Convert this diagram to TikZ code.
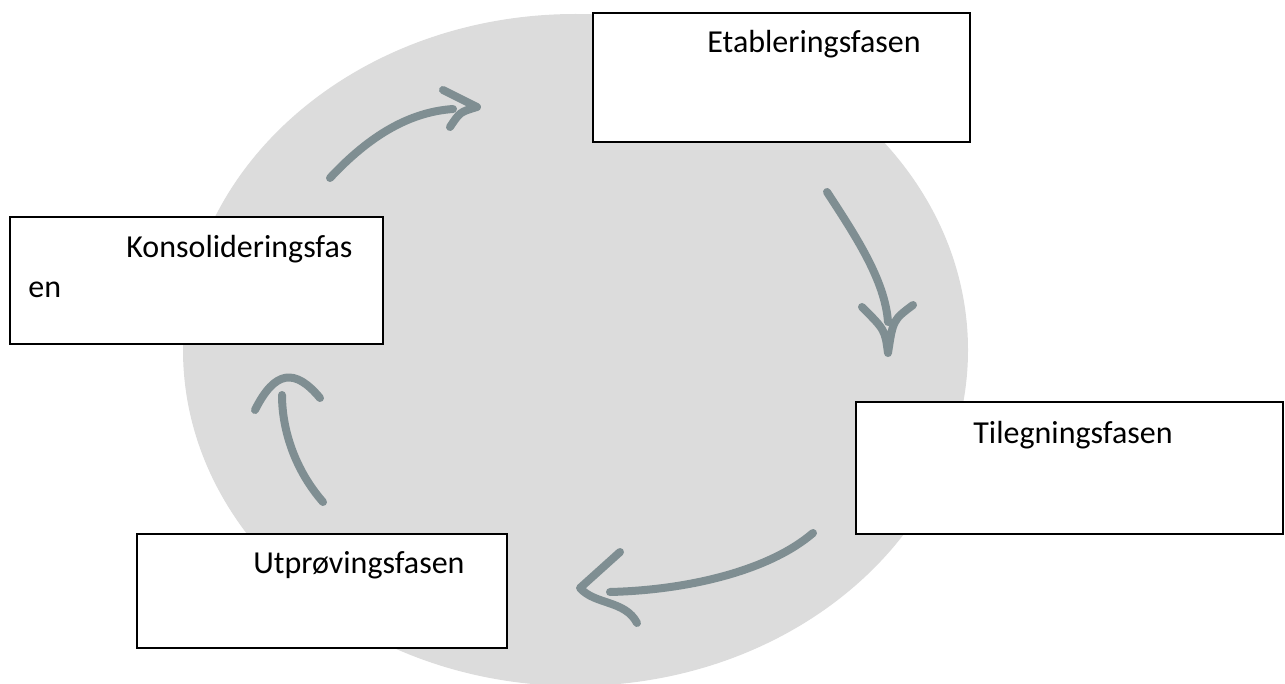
\documentclass[tikz,border=0pt]{standalone}
\usepackage{fontspec}
\setmainfont{Carlito}
\definecolor{ovalgrey}{RGB}{220,220,220}
\definecolor{strokegrey}{RGB}{127,142,146}

\begin{document}
\begin{tikzpicture}[x=0.5pt, y=-0.5pt,
  phasebox/.style={draw=black, line width=1pt, fill=white, inner sep=0pt},
  phasetext/.style={anchor=base west, inner sep=0pt,
    font=\fontsize{16}{19}\selectfont},
  stroke/.style={draw=strokegrey, line width=4pt, line cap=round,
    line join=round}]
\useasboundingbox (0,0) rectangle (1285,684);
\fill[ovalgrey] (575.5,350) ellipse [x radius=196.25pt, y radius=168pt];
\node[phasebox, minimum width=188.5pt, minimum height=64.5pt] (etab) at (781.5,77.5) {};
\node[phasebox, minimum width=186.5pt, minimum height=63.5pt] (konsol) at (196.5,280.5) {};
\node[phasebox, minimum width=213.5pt, minimum height=66pt] (tileg) at (1069.5,468) {};
\node[phasebox, minimum width=185pt, minimum height=57pt] (utpr) at (322,591) {};
\node[phasetext] (etab-label) at (707,53) {Etableringsfasen};
\node[phasetext] (konsol-label) at (126,258) {Konsolideringsfas};
\node[phasetext] (konsol-rest) at (28,298) {en};
\node[phasetext] (tileg-label) at (973,443) {Tilegningsfasen};
\node[phasetext] (utpr-label) at (253,573) {Utprøvingsfasen};
% hand-drawn arrows
\coordinate (a1s) at (330,178);
\coordinate (a1e) at (453,109);
\coordinate (a1t) at (477,107);
\coordinate (a1u) at (443,90);
\coordinate (a1d) at (450,127);
\draw[stroke] (a1s) .. controls (370,135) and (410,112) .. (a1e);
\draw[stroke] (a1u) -- (a1t) .. controls (460,112) .. (a1d);
\coordinate (a2s) at (827,192);
\coordinate (a2e) at (888,322);
\coordinate (a2t) at (888,353);
\coordinate (a2l) at (862,307);
\coordinate (a2r) at (913,305);
\draw[stroke] (a2s) .. controls (855,235) and (885,280) .. (a2e);
\draw[stroke] (a2l) .. controls (885,330) .. (a2t) .. controls (893,320) .. (a2r);
\coordinate (a3s) at (813,533);
\coordinate (a3e) at (610,592);
\coordinate (a3t) at (580,588);
\coordinate (a3u) at (620,552);
\coordinate (a3d) at (637,623);
\draw[stroke] (a3s) .. controls (770,570) and (690,590) .. (a3e);
\draw[stroke] (a3u) -- (a3t) .. controls (595,605) and (625,600) .. (a3d);
\coordinate (a4s) at (323,502);
\coordinate (a4e) at (282,395);
\coordinate (a4l) at (255,410);
\coordinate (a4r) at (320,398);
\draw[stroke] (a4s) .. controls (295,470) and (282,430) .. (a4e);
\draw[stroke] (a4l) .. controls (275,370) and (295,368) .. (a4r);
\end{tikzpicture}
\end{document}
